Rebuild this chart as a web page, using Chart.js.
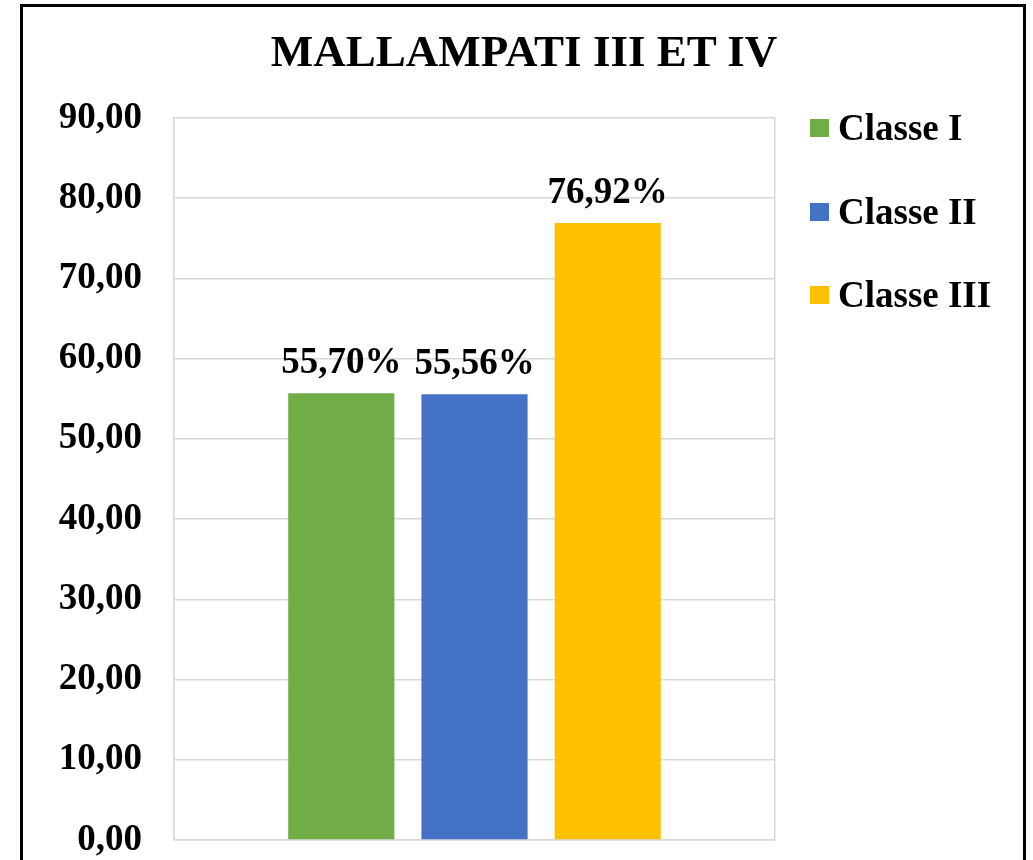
<!DOCTYPE html>
<html>
<head>
<meta charset="utf-8">
<script src="https://cdn.jsdelivr.net/npm/chart.js@4"></script>
<style>
  html, body { margin: 0; padding: 0; background: #fff; overflow: hidden; }
  #wrap { position: relative; width: 1033px; height: 860px; }
  #frame {
    position: absolute; left: 20px; top: 4px; width: 1000px; height: 900px;
    border: 3px solid #000; pointer-events: none;
  }
  #title {
    position: absolute; left: 24px; width: 1000px; top: 25px; line-height: 52px;
    text-align: center; font: bold 45px "Liberation Serif", "Times New Roman", serif; color: #000;
  }
  #legend {
    position: absolute; left: 810px; top: 107px; margin: 0; padding: 0; list-style: none;
    font: bold 37px "Liberation Serif", "Times New Roman", serif; color: #000;
  }
  #legend li { height: 83.5px; display: flex; align-items: flex-start; }
  #legend .box { width: 19px; height: 18px; margin-top: 12px; margin-right: 9px; }
  #legend .txt { line-height: 42px; }
</style>
</head>
<body>
<div id="wrap">
  <canvas id="chart" width="1033" height="860"></canvas>
  <div id="title"></div>
  <ul id="legend"></ul>
  <div id="frame"></div>
</div>
<script>
const chartTitle = "MALLAMPATI III ET IV";
const categories = [""];
const seriesNames = ["Classe I", "Classe II", "Classe III"];
const seriesValues = [55.70, 55.56, 76.92];
const seriesColors = ["#70AD47", "#4472C4", "#FFC000"];
const yTicks = [0, 10, 20, 30, 40, 50, 60, 70, 80, 90];

const serif = "'Liberation Serif', 'Times New Roman', serif";

function frNumber(v) {
  return v.toFixed(2).replace(".", ",");
}

// value labels above each bar
const barLabels = {
  id: "barLabels",
  afterDatasetsDraw(chart) {
    const ctx = chart.ctx;
    ctx.save();
    ctx.font = "bold 37px " + serif;
    ctx.fillStyle = "#000";
    ctx.textAlign = "center";
    ctx.textBaseline = "alphabetic";
    chart.data.datasets.forEach((ds, i) => {
      const bar = chart.getDatasetMeta(i).data[0];
      ctx.fillText(frNumber(ds.data[0]) + "%", bar.x, bar.y - 20);
    });
    ctx.restore();
  }
};

const datasets = seriesNames.map((name, i) => ({
  label: name,
  data: [seriesValues[i]],
  backgroundColor: seriesColors[i],
  borderWidth: 0,
  categoryPercentage: 0.665,
  barPercentage: 0.797
}));

const ctx = document.getElementById("chart").getContext("2d");
new Chart(ctx, {
  type: "bar",
  data: { labels: categories, datasets: datasets },
  options: {
    responsive: false,
    animation: false,
    layout: { padding: { left: 30, right: 258, top: 118, bottom: 20 } },
    plugins: {
      legend: { display: false },
      tooltip: { enabled: false },
      title: { display: false }
    },
    scales: {
      x: {
        afterFit: (scale) => { scale.height = 0; },
        ticks: { display: false },
        grid: { display: true, color: "#D9D9D9", lineWidth: 1.5, drawTicks: false },
        border: { color: "#D9D9D9", width: 1.5 }
      },
      y: {
        min: yTicks[0],
        max: yTicks[yTicks.length - 1],
        afterBuildTicks: (scale) => { scale.ticks = yTicks.map(v => ({ value: v })); },
        afterFit: (scale) => {
          scale.width = 144;
          // tick padding should not push the plot up from the bottom
          scale.paddingTop = 18;
          scale.paddingBottom = 18;
        },
        ticks: {
          color: "#000",
          padding: 32,
          font: { family: serif, size: 37, weight: "bold", lineHeight: 1 },
          callback: (v) => frNumber(v)
        },
        grid: { color: "#D9D9D9", lineWidth: 1.5, drawTicks: false },
        border: { color: "#D9D9D9", width: 1.5 }
      }
    }
  },
  plugins: [barLabels]
});

document.getElementById("title").textContent = chartTitle;

// legend as html list
const legendEl = document.getElementById("legend");
seriesNames.forEach((name, i) => {
  const li = document.createElement("li");
  li.innerHTML = '<span class="box" style="background:' + seriesColors[i] + '"></span><span class="txt">' + name + '</span>';
  legendEl.appendChild(li);
});
</script>
</body>
</html>
